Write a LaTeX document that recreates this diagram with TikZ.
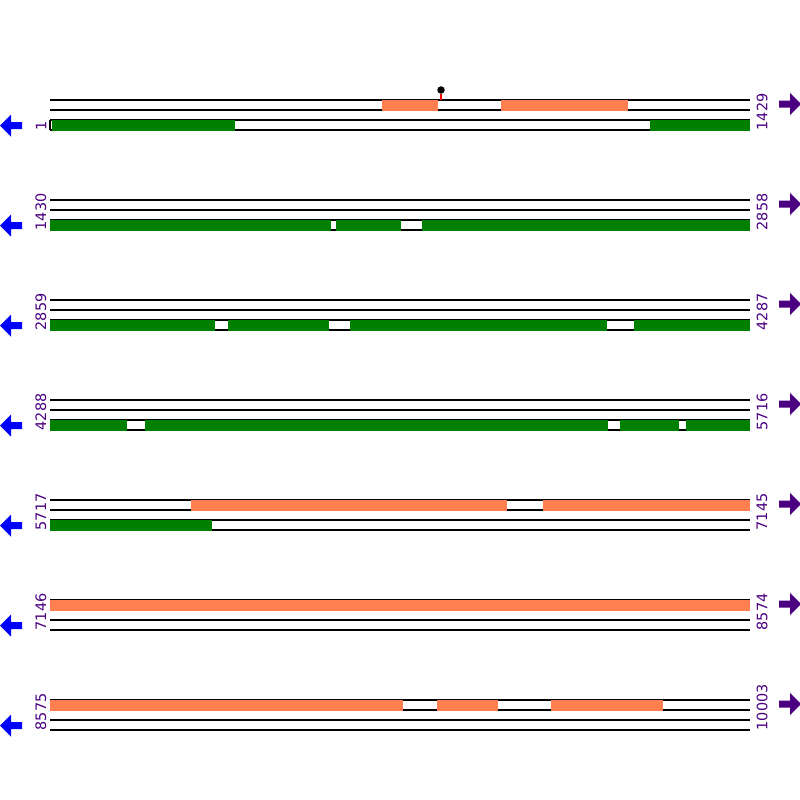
\documentclass[tikz,border=0pt]{standalone}
\usepackage{fontspec}
\setmainfont{DejaVu Sans}
\definecolor{cdsgreen}{RGB}{0,128,0}
\definecolor{orfcoral}{RGB}{255,127,80}
\definecolor{labelpurple}{RGB}{75,0,130}

\begin{document}
\begin{tikzpicture}[x=0.01cm, y=-0.01cm,
  track/.style={draw=black, line width=0.3pt},
  cds/.style={fill=cdsgreen},
  orf/.style={fill=orfcoral},
  poslabel/.style={text=labelpurple, rotate=90, anchor=west, inner sep=0pt, font=\fontsize{4.1}{5}\selectfont},
  revarrow/.style={fill=blue},
  fwdarrow/.style={fill=labelpurple}]
  \useasboundingbox (0,0) rectangle (800,800);

  % tracks, position labels and strand arrows
  \foreach \row/\first/\last in {1/1/1429, 2/1430/2858, 3/2859/4287, 4/4288/5716,
                                 5/5717/7145, 6/7146/8574, 7/8575/10003} {
    \pgfmathsetmacro{\y}{\row*100}
    \foreach \k in {0,10,20,30}
      \draw[track] (50,\y+\k) -- (750,\y+\k);
    \node[poslabel] (first\row) at (41,\y+31) {\first};
    \node[poslabel] (last\row) at (762,\y+31) {\last};
    \fill[revarrow] (0,\y+25.5) -- ++(11,-11) -- ++(0,7.5) -- ++(11,0) -- ++(0,7)
      -- ++(-11,0) -- ++(0,7.5) -- cycle;
    \fill[fwdarrow] (801,\y+4) -- ++(-11,-11) -- ++(0,7.5) -- ++(-11,0) -- ++(0,7)
      -- ++(11,0) -- ++(0,7.5) -- cycle;
  }

  % row 1
  \foreach \a/\b in {382/438, 501/628}
    \fill[orf] (\a,99.5) rectangle (\b,110.5);
  \foreach \a/\b in {52/235, 650/750}
    \fill[cds] (\a,119.5) rectangle (\b,130.5);
  \draw[track] (50,120) -- (50,130);
  \node[circle, fill=black, inner sep=0pt, minimum size=0.075cm] (site) at (441,90) {};
  \draw[red, line width=0.3pt] (site) -- (441,100);

  % row 2
  \foreach \a/\b in {50/331, 336/401, 422/750}
    \fill[cds] (\a,219.5) rectangle (\b,230.5);

  % row 3
  \foreach \a/\b in {50/215, 228/329, 350/607, 634/750}
    \fill[cds] (\a,319.5) rectangle (\b,330.5);

  % row 4
  \foreach \a/\b in {50/127, 145/608, 620/679, 686/750}
    \fill[cds] (\a,419.5) rectangle (\b,430.5);

  % row 5
  \foreach \a/\b in {191/507, 543/750}
    \fill[orf] (\a,499.5) rectangle (\b,510.5);
  \fill[cds] (50,519.5) rectangle (212,530.5);

  % row 6
  \fill[orf] (50,599.5) rectangle (750,610.5);

  % row 7
  \foreach \a/\b in {50/403, 437/498, 551/663}
    \fill[orf] (\a,699.5) rectangle (\b,710.5);
\end{tikzpicture}
\end{document}
